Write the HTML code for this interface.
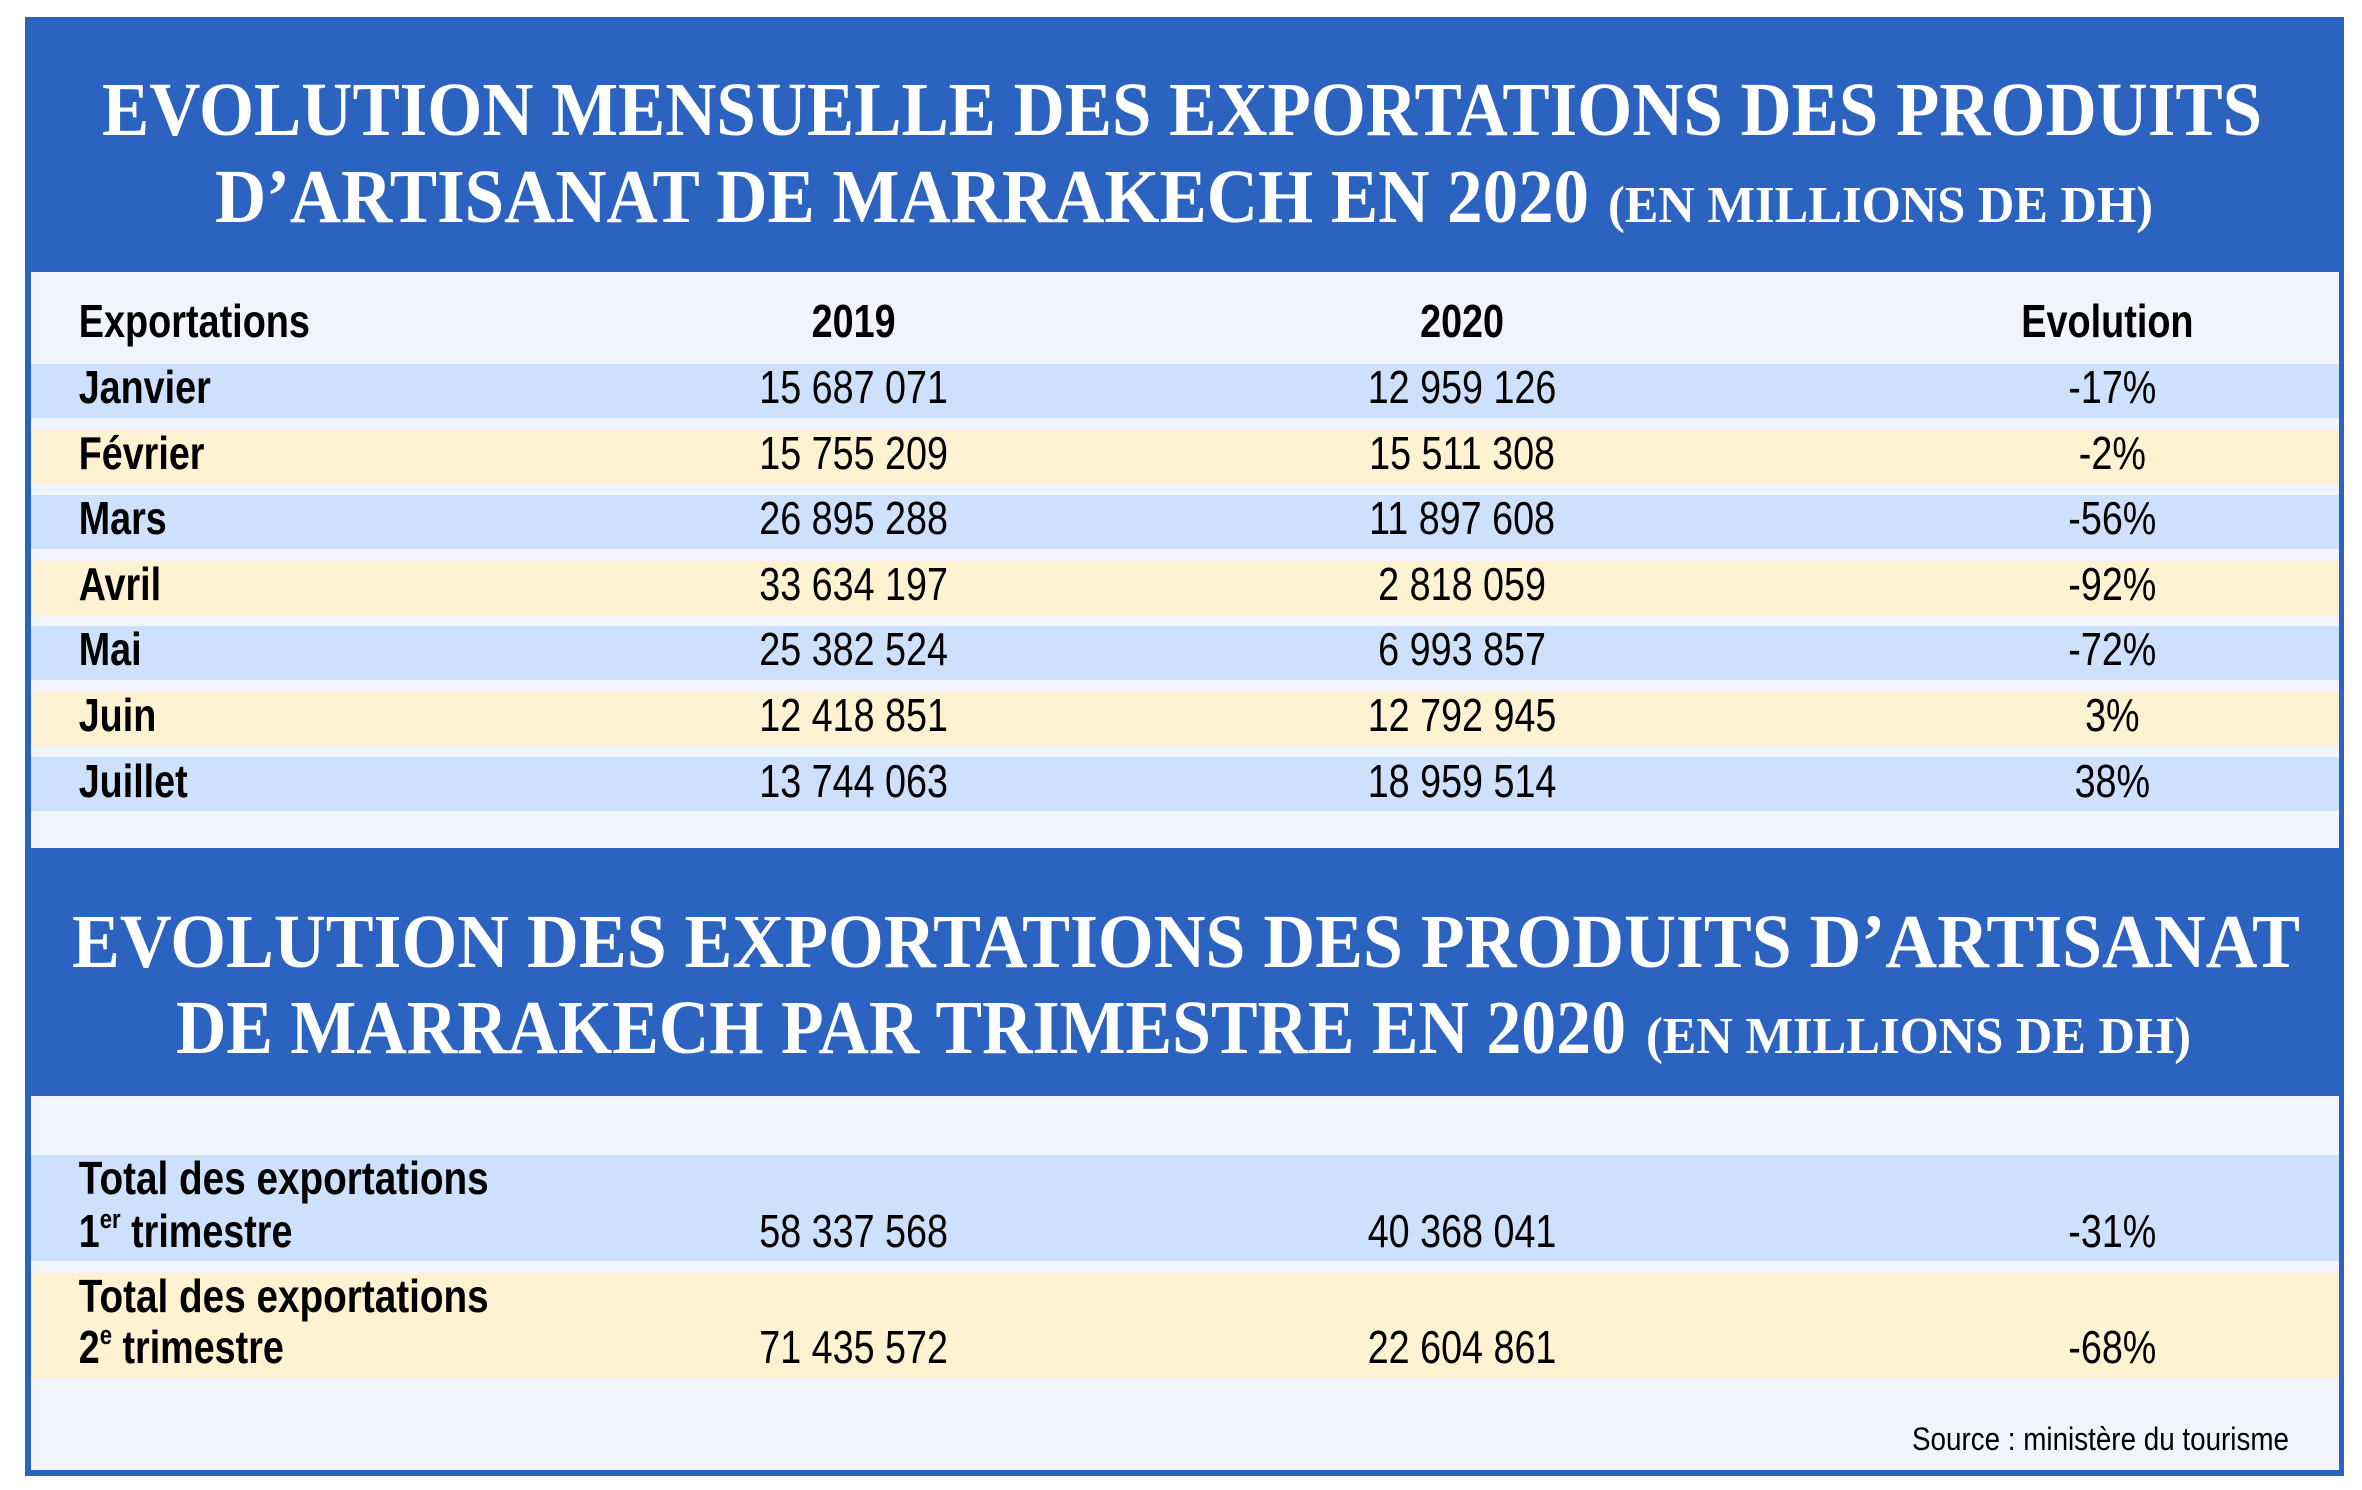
<!DOCTYPE html>
<html><head><meta charset="utf-8"><style>html,body{margin:0;padding:0;background:#fff}svg{display:block}</style></head><body>
<svg width="2362" height="1490" viewBox="0 0 2362 1490" xmlns="http://www.w3.org/2000/svg">
<rect x="0" y="0" width="2362" height="1490" fill="#fff"/>
<rect x="25" y="17" width="2319" height="1459" fill="#2c63c0"/>
<rect x="31" y="272" width="2308" height="576" fill="#f1f4fa"/>
<rect x="31" y="1096" width="2308" height="374" fill="#f1f4fa"/>
<g fill="#cde0fc">
<rect x="31" y="364" width="2308" height="54"/>
<rect x="31" y="495" width="2308" height="54"/>
<rect x="31" y="626" width="2308" height="54"/>
<rect x="31" y="757" width="2308" height="54"/>
<rect x="31" y="1155" width="2308" height="106"/>
</g>
<g fill="#fef2d3">
<rect x="31" y="430" width="2308" height="54"/>
<rect x="31" y="561" width="2308" height="54"/>
<rect x="31" y="692" width="2308" height="54"/>
<rect x="31" y="1273" width="2308" height="105"/>
</g>
<g font-family="'Liberation Serif',serif" font-weight="bold" fill="#fff">
<text x="102" y="135" font-size="76" textLength="2160" lengthAdjust="spacingAndGlyphs">EVOLUTION MENSUELLE DES EXPORTATIONS DES PRODUITS</text>
<text x="215" y="222" font-size="76" textLength="1374" lengthAdjust="spacingAndGlyphs">D’ARTISANAT DE MARRAKECH EN 2020</text>
<text x="1608" y="222" font-size="52" textLength="545" lengthAdjust="spacingAndGlyphs">(EN MILLIONS DE DH)</text>
<text x="72" y="967" font-size="76" textLength="2228" lengthAdjust="spacingAndGlyphs">EVOLUTION DES EXPORTATIONS DES PRODUITS D’ARTISANAT</text>
<text x="176" y="1053" font-size="76" textLength="1450" lengthAdjust="spacingAndGlyphs">DE MARRAKECH PAR TRIMESTRE EN 2020</text>
<text x="1646" y="1053" font-size="52" textLength="545" lengthAdjust="spacingAndGlyphs">(EN MILLIONS DE DH)</text>
</g>
<g transform="scale(0.82,1)" font-family="'Liberation Sans Narrow','Liberation Sans',sans-serif" font-size="46" fill="#000">
<g font-weight="bold">
<text x="96" y="337" textLength="282" lengthAdjust="spacingAndGlyphs">Exportations</text>
<text x="1041" y="337" text-anchor="middle">2019</text>
<text x="1783" y="337" text-anchor="middle">2020</text>
<text x="2570" y="337" text-anchor="middle" textLength="210" lengthAdjust="spacingAndGlyphs">Evolution</text>
<text x="96" y="403">Janvier</text>
<text x="96" y="469">Février</text>
<text x="96" y="534">Mars</text>
<text x="96" y="600">Avril</text>
<text x="96" y="665">Mai</text>
<text x="96" y="731">Juin</text>
<text x="96" y="797">Juillet</text>
<text x="96" y="1194" textLength="500" lengthAdjust="spacingAndGlyphs">Total des exportations</text>
<text x="96" y="1247">1<tspan font-size="27" dy="-19">er</tspan><tspan dy="19"> trimestre</tspan></text>
<text x="96" y="1312" textLength="500" lengthAdjust="spacingAndGlyphs">Total des exportations</text>
<text x="96" y="1363">2<tspan font-size="27" dy="-19">e</tspan><tspan dy="19">  trimestre</tspan></text>
</g>
<g text-anchor="middle">
<text x="1041" y="403">15 687 071</text><text x="1783" y="403">12 959 126</text><text x="2576" y="403">-17%</text>
<text x="1041" y="469">15 755 209</text><text x="1783" y="469">15 511 308</text><text x="2576" y="469">-2%</text>
<text x="1041" y="534">26 895 288</text><text x="1783" y="534">11 897 608</text><text x="2576" y="534">-56%</text>
<text x="1041" y="600">33 634 197</text><text x="1783" y="600">2 818 059</text><text x="2576" y="600">-92%</text>
<text x="1041" y="665">25 382 524</text><text x="1783" y="665">6 993 857</text><text x="2576" y="665">-72%</text>
<text x="1041" y="731">12 418 851</text><text x="1783" y="731">12 792 945</text><text x="2576" y="731">3%</text>
<text x="1041" y="797">13 744 063</text><text x="1783" y="797">18 959 514</text><text x="2576" y="797">38%</text>
<text x="1041" y="1247">58 337 568</text><text x="1783" y="1247">40 368 041</text><text x="2576" y="1247">-31%</text>
<text x="1041" y="1363">71 435 572</text><text x="1783" y="1363">22 604 861</text><text x="2576" y="1363">-68%</text>
</g>
</g>
<text x="1912" y="1450" font-family="'Liberation Sans',sans-serif" font-size="32" textLength="377" lengthAdjust="spacingAndGlyphs">Source :  ministère du tourisme</text>
</svg>
</body></html>
